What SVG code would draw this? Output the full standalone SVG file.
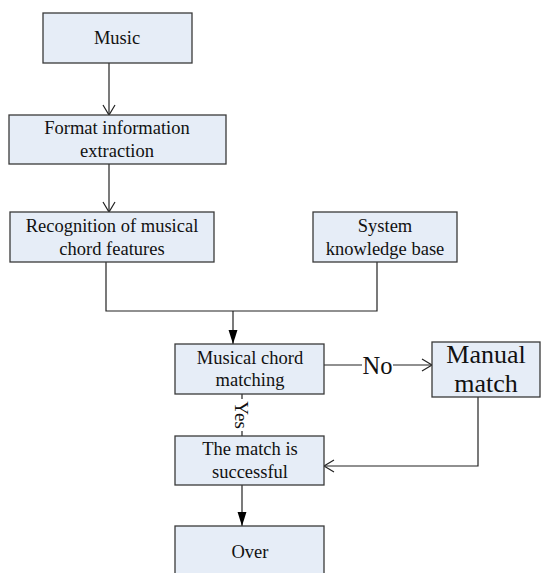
<svg xmlns="http://www.w3.org/2000/svg" width="541" height="573" viewBox="0 0 541 573">
<defs>
<style>
.box{fill:#e6edf7;stroke:#3a3a3a;stroke-width:1.3}
.t{font-family:'Liberation Serif','Times New Roman','DejaVu Serif',serif;font-size:18.5px;fill:#111;text-anchor:middle}
.big{font-size:26px}
.line{fill:none;stroke:#222;stroke-width:1.2}
</style>
<marker id="open" markerWidth="14" markerHeight="14" refX="11" refY="7" orient="auto" markerUnits="userSpaceOnUse">
<path d="M1,1 L11,7 L1,13" fill="none" stroke="#222" stroke-width="1.2"/>
</marker>
<marker id="filled" markerWidth="14" markerHeight="24" refX="22" refY="7" orient="auto" markerUnits="userSpaceOnUse" viewBox="0 0 22 14">
<path d="M0,0 L22,7 L0,14 Z" fill="#000"/>
</marker>
</defs>
<g id="connectors">
<line class="line" x1="109" y1="63" x2="109" y2="115" marker-end="url(#open)"/>
<line class="line" x1="109" y1="164" x2="109" y2="212" marker-end="url(#open)"/>
<polyline class="line" points="106,262 106,311 377,311 377,262"/>
<line class="line" x1="233" y1="311" x2="233" y2="344" marker-end="url(#filled)"/>
<line class="line" x1="324" y1="365" x2="362" y2="365"/>
<line class="line" x1="393" y1="365" x2="432" y2="365" marker-end="url(#open)"/>
<line class="line" x1="242" y1="394" x2="242" y2="399"/>
<line class="line" x1="242" y1="431" x2="242" y2="436"/>
<polyline class="line" points="478,397 478,466 324,466" marker-end="url(#open)"/>
<line class="line" x1="242" y1="485" x2="242" y2="526" marker-end="url(#filled)"/>
<text class="t" x="377.5" y="374" style="font-size:24.5px">No</text>
<text class="t" transform="translate(235,415) rotate(90)" style="font-size:19px">Yes</text>
</g>
<g id="music"><rect class="box" x="43" y="13" width="149" height="50"/><text class="t" x="117" y="44">Music</text></g>
<g id="format"><rect class="box" x="9" y="115" width="217" height="49"/><text class="t" x="117" y="134">Format information</text><text class="t" x="117" y="157">extraction</text></g>
<g id="recognition"><rect class="box" x="10" y="212" width="204" height="50"/><text class="t" x="112" y="232">Recognition of musical</text><text class="t" x="112" y="255">chord features</text></g>
<g id="knowledge"><rect class="box" x="313" y="212" width="144" height="50"/><text class="t" x="385" y="232">System</text><text class="t" x="385" y="255">knowledge base</text></g>
<g id="matching"><rect class="box" x="175" y="344" width="149" height="50"/><text class="t" x="250" y="364">Musical chord</text><text class="t" x="250" y="386">matching</text></g>
<g id="manual"><rect class="box" x="432" y="342" width="108" height="55"/><text class="t big" x="486" y="363">Manual</text><text class="t big" x="486" y="392">match</text></g>
<g id="success"><rect class="box" x="175" y="436" width="149" height="49"/><text class="t" x="250" y="455">The match is</text><text class="t" x="250" y="478">successful</text></g>
<g id="over"><rect class="box" x="175" y="526" width="149" height="52"/><text class="t" x="250" y="558">Over</text></g>
</svg>
